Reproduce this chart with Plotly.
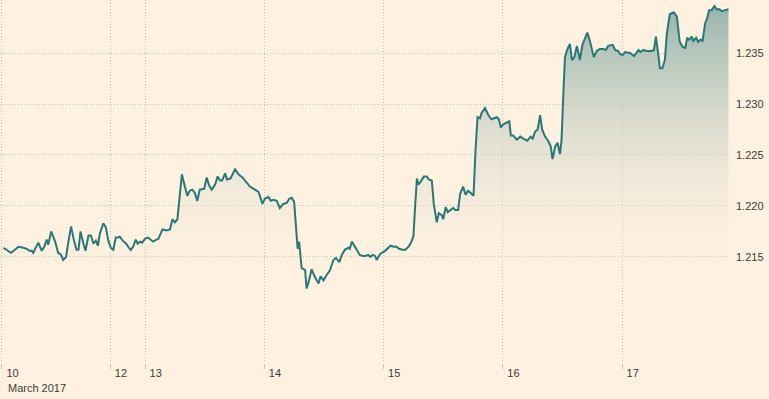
import plotly.graph_objects as go

# Trading hours elapsed since 10 March 2017 00:00 (weekend gap removed)
hours = [0.3, 0.9, 1.8, 2.6, 3.3, 4.3, 5.0, 5.5, 6.0, 6.3, 6.8, 7.3, 8.0, 8.5, 9.0, 9.3, 9.9, 10.7, 11.3, 11.9,
         12.3, 12.9, 13.3, 13.9, 14.5, 15.0, 15.4, 15.8, 16.4, 16.8, 17.4, 17.9, 18.4, 18.9, 19.3, 19.7, 20.4, 20.9, 21.4, 21.9,
         22.4, 22.9, 23.4, 23.7, 24.3, 25.0, 25.4, 25.9, 26.4, 26.9, 27.3, 27.8, 28.2, 28.8, 29.4, 30.4, 31.5, 32.3, 33.1, 33.8,
         34.3, 34.8, 35.3, 36.2, 36.8, 37.3, 37.8, 38.3, 38.8, 39.3, 39.8, 40.7, 41.2, 41.7, 42.2, 42.9, 43.4, 43.9, 44.3, 44.9,
         45.3, 46.0, 46.9, 47.6, 48.4, 49.1, 49.9, 50.9, 51.6, 51.9, 52.4, 52.9, 53.6, 54.1, 54.6, 55.3, 55.9, 56.6, 57.3, 57.8,
         58.3, 58.8, 59.1, 59.5, 59.8, 60.3, 61.0, 61.3, 61.8, 62.3, 63.0, 63.7, 64.1, 64.7, 65.3, 66.0, 66.7, 67.2, 67.9, 68.4,
         69.0, 69.7, 70.0, 70.4, 70.8, 71.4, 72.0, 72.7, 73.2, 73.7, 74.1, 74.6, 75.1, 75.4, 76.1, 77.1, 77.7, 78.2, 78.9, 79.4,
         79.9, 80.6, 81.2, 81.8, 82.3, 82.8, 83.1, 83.5, 83.8, 84.3, 84.9, 85.5, 85.9, 86.5, 86.9, 87.5, 87.9, 88.5, 88.8, 89.3,
         89.7, 90.2, 90.8, 91.2, 91.8, 92.2, 92.8, 93.3, 93.8, 94.5, 94.9, 95.3, 95.7, 96.2, 96.5, 97.2, 97.9, 98.5, 99.0, 99.6,
         100.0, 100.4, 100.9, 101.6, 102.1, 102.4, 102.9, 103.6, 104.3, 104.9, 105.7, 106.4, 106.8, 107.3, 107.8, 108.3, 108.7, 109.3, 109.9, 110.4,
         110.8, 111.3, 111.8, 112.3, 112.6, 113.0, 113.3, 113.8, 114.3, 114.7, 115.2, 115.7, 116.3, 116.8, 117.3, 117.8, 118.3, 119.1, 119.7, 120.3,
         121.0, 121.5, 122.0, 122.9, 123.4, 124.0, 124.4, 124.9, 125.4, 126.4, 127.2, 128.1, 128.5, 129.1, 129.7, 130.7, 131.2, 131.6, 132.1, 132.4,
         132.9, 133.4, 133.8, 134.4, 135.2, 135.8, 136.4, 137.0, 137.5, 137.9, 138.3, 138.8, 139.1, 139.7, 140.1, 140.6, 141.0, 141.5, 141.9, 142.3,
         142.8, 143.4, 143.8, 144.4, 144.8, 145.5, 146.2]

eurusd = [1.2159, 1.2157, 1.2154, 1.2157, 1.2160, 1.2159, 1.2158, 1.2156, 1.2156, 1.2154, 1.2159, 1.2164, 1.2156, 1.2160, 1.2167, 1.2162, 1.2175, 1.2165, 1.2154, 1.2152,
          1.2147, 1.2150, 1.2163, 1.2180, 1.2166, 1.2157, 1.2157, 1.2175, 1.2163, 1.2156, 1.2171, 1.2171, 1.2163, 1.2166, 1.2161, 1.2173, 1.2183, 1.2179, 1.2166, 1.2159,
          1.2157, 1.2169, 1.2169, 1.2170, 1.2166, 1.2163, 1.2160, 1.2157, 1.2160, 1.2167, 1.2163, 1.2165, 1.2164, 1.2168, 1.2169, 1.2165, 1.2168, 1.2177, 1.2176, 1.2177,
          1.2187, 1.2184, 1.2187, 1.2231, 1.2219, 1.2210, 1.2215, 1.2216, 1.2213, 1.2205, 1.2216, 1.2217, 1.2228, 1.2220, 1.2216, 1.2221, 1.2229, 1.2225, 1.2225, 1.2232,
          1.2226, 1.2227, 1.2236, 1.2231, 1.2228, 1.2224, 1.2219, 1.2216, 1.2214, 1.2210, 1.2202, 1.2207, 1.2209, 1.2205, 1.2206, 1.2205, 1.2198, 1.2202, 1.2203, 1.2207,
          1.2208, 1.2204, 1.2183, 1.2158, 1.2165, 1.2139, 1.2137, 1.2119, 1.2127, 1.2138, 1.2130, 1.2124, 1.2131, 1.2127, 1.2132, 1.2137, 1.2147, 1.2149, 1.2145, 1.2152,
          1.2157, 1.2159, 1.2158, 1.2165, 1.2162, 1.2157, 1.2152, 1.2151, 1.2151, 1.2152, 1.2150, 1.2152, 1.2151, 1.2147, 1.2153, 1.2156, 1.2159, 1.2161, 1.2160, 1.2160,
          1.2158, 1.2157, 1.2157, 1.2160, 1.2164, 1.2170, 1.2196, 1.2227, 1.2221, 1.2224, 1.2229, 1.2229, 1.2226, 1.2225, 1.2202, 1.2184, 1.2193, 1.2191, 1.2187, 1.2199,
          1.2194, 1.2196, 1.2198, 1.2196, 1.2196, 1.2212, 1.2219, 1.2211, 1.2215, 1.2212, 1.2210, 1.2255, 1.2287, 1.2286, 1.2291, 1.2296, 1.2289, 1.2285, 1.2286, 1.2287,
          1.2285, 1.2277, 1.2280, 1.2282, 1.2283, 1.2269, 1.2269, 1.2265, 1.2268, 1.2266, 1.2264, 1.2268, 1.2266, 1.2273, 1.2275, 1.2289, 1.2275, 1.2268, 1.2264, 1.2259,
          1.2246, 1.2258, 1.2262, 1.2251, 1.2264, 1.2313, 1.2346, 1.2354, 1.2359, 1.2343, 1.2346, 1.2357, 1.2343, 1.2358, 1.2364, 1.2370, 1.2362, 1.2346, 1.2352, 1.2354,
          1.2354, 1.2353, 1.2357, 1.2358, 1.2353, 1.2352, 1.2349, 1.2348, 1.2351, 1.2350, 1.2347, 1.2353, 1.2351, 1.2353, 1.2352, 1.2352, 1.2353, 1.2366, 1.2348, 1.2335,
          1.2335, 1.2343, 1.2369, 1.2388, 1.2390, 1.2386, 1.2361, 1.2356, 1.2355, 1.2365, 1.2363, 1.2366, 1.2362, 1.2365, 1.2361, 1.2363, 1.2362, 1.2379, 1.2384, 1.2392,
          1.2392, 1.2396, 1.2393, 1.2393, 1.2391, 1.2392, 1.2393]

# Day ticks (trading hours) and their labels
day_tick_hours = [0, 21.8, 28.8, 52.8, 76.8, 100.8, 124.8]
day_tick_labels = ["10", "12", "13", "14", "15", "16", "17"]
month_label = "March 2017"

y_tick_values = [1.215, 1.220, 1.225, 1.230, 1.235]
y_tick_labels = ["1.215", "1.220", "1.225", "1.230", "1.235"]

BG = "#fff1e0"
LINE = "#277879"
GRID = "#c9bfb3"
TEXT = "#3d3a37"
FONT = "Liberation Sans, Arial, sans-serif"

fig = go.Figure()
fig.add_trace(go.Scatter(
    x=hours, y=eurusd, mode="lines",
    line=dict(color=LINE, width=2),
    fill="tozeroy",
    fillgradient=dict(
        type="vertical",
        start=min(eurusd), stop=max(eurusd),
        colorscale=[[0, "rgba(255,241,224,0)"], [1, "rgba(150,180,172,1)"]],
    ),
    hoverinfo="skip", showlegend=False,
))

fig.update_layout(
    width=769, height=399,
    margin=dict(l=0, r=40, t=0, b=36, autoexpand=False),
    paper_bgcolor=BG, plot_bgcolor=BG,
    font=dict(family=FONT, size=11, color=TEXT),
    showlegend=False,
    xaxis=dict(
        range=[-0.40, 146.31], automargin=False,
        tickmode="array", tickvals=day_tick_hours, ticktext=day_tick_labels,
        showgrid=True, gridcolor=GRID, griddash="1px,2px", gridwidth=1,
        ticks="outside", ticklen=5, tickcolor="#cbc2b8", tickwidth=1,
        ticklabelposition="outside right", ticklabelshift=4,
        showline=False, zeroline=False,
        tickfont=dict(family=FONT, size=11, color=TEXT),
    ),
    yaxis=dict(
        range=[1.2046, 1.2402], side="right", automargin=False,
        tickmode="array", tickvals=y_tick_values, ticktext=y_tick_labels,
        showgrid=True, gridcolor=GRID, griddash="1px,2px", gridwidth=1,
        ticks="", ticklabelstandoff=6,
        showline=False, zeroline=False,
        tickfont=dict(family=FONT, size=11, color=TEXT),
    ),
    annotations=[dict(
        text=month_label, xref="paper", yref="paper", x=0, y=0,
        xanchor="left", yanchor="middle", xshift=6, yshift=-25,
        showarrow=False, font=dict(family=FONT, size=11, color=TEXT),
    )],
)

fig.write_html(
    "out.html",
    config={"displayModeBar": False},
    post_script="document.body.style.margin='0';document.body.style.background='#fff1e0';",
)
